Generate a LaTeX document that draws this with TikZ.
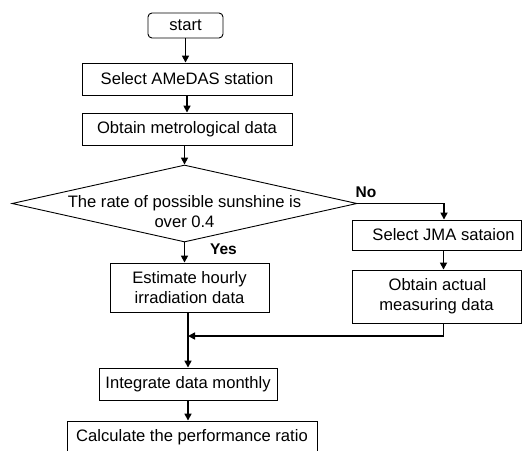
\documentclass[tikz,border=0pt]{standalone}
\usepackage{fontspec}
\setmainfont{Liberation Sans}
\usetikzlibrary{arrows.meta,shapes.geometric}
\begin{document}
\begin{tikzpicture}[x=1pt,y=-1pt,
  every node/.style={font=\fontsize{16.6}{20}\selectfont, inner sep=0pt, align=center},
  box/.style={draw, line width=0.9pt, fill=white},
  conn/.style={line width=1.6pt},
  arr/.style={conn, -{Triangle[width=7pt,length=7pt]}},
  lbl/.style={font=\fontsize{15.5}{18}\selectfont\bfseries}]
\useasboundingbox (0,0) rectangle (522,450);
\node[box, rounded corners=4pt, minimum width=75, minimum height=25] (start) at (185.5,25.5) {start};
\node[box, minimum width=210, minimum height=32] (sel) at (187,79) {Select AMeDAS station};
\node[box, minimum width=210, minimum height=32] (obt) at (187,129) {Obtain metrological data};
\node[diamond, draw, line width=0.9pt, minimum width=345, minimum height=77] (dec) at (184.5,203.5) {};
\node (dectext) at (184.5,212) {The rate of possible sunshine is\\over 0.4};
\node[box, minimum width=159, minimum height=49] (est) at (189.5,287.5) {Estimate hourly\\irradiation data};
\node[box, minimum width=169, minimum height=30] (jma) at (436.5,235) {\hspace*{14pt}Select JMA sataion};
\node[box, minimum width=169, minimum height=53] (act) at (436.5,296.5) {\hspace*{2pt}Obtain actual\\measuring data};
\node[box, minimum width=178, minimum height=32] (int) at (188,384) {Integrate data monthly};
\node[box, minimum width=250, minimum height=32] (calc) at (192,437) {Calculate the performance ratio};
\node[lbl] (no) at (366,192.5) {No};
\node[lbl] (yes) at (223.5,249) {Yes};
\coordinate (j) at (188,336);
\draw[arr] (start.south) -- (start.south |- sel.north);
\draw[arr] (sel.south) -- (obt.north);
\draw[arr] (obt.south -| dec.north) -- (dec.north);
\draw[arr] (dec.south) -- (dec.south |- est.north);
\draw[arr] (dec.east) -| ([xshift=7.5pt]jma.north);
\draw[arr] ([xshift=7pt]jma.south) -- ([xshift=7pt]act.north);
\draw[arr] ([xshift=7pt]act.south) |- (j);
\draw[arr] (int.north |- est.south) -- (int.north);
\draw[arr] (int.south) -- (int.south |- calc.north);
\end{tikzpicture}
\end{document}
